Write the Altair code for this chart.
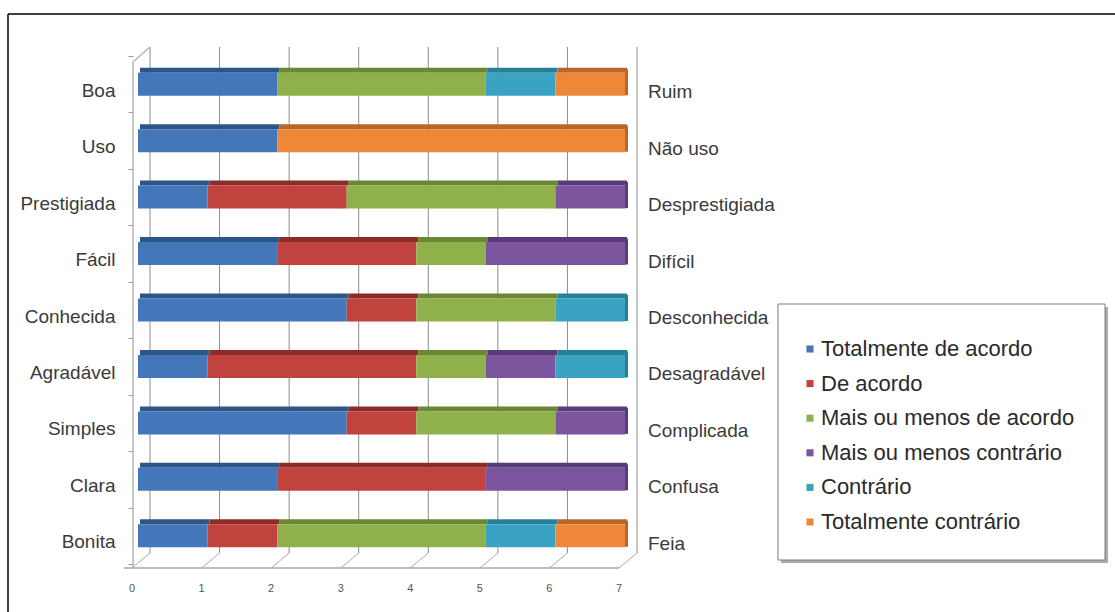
import altair as alt
import pandas as pd

categories = ["Boa", "Uso", "Prestigiada", "Fácil", "Conhecida", "Agradável", "Simples", "Clara", "Bonita"]
opposites = ["Ruim", "Não uso", "Desprestigiada", "Difícil", "Desconhecida", "Desagradável", "Complicada", "Confusa", "Feia"]
series = ["Totalmente de acordo", "De acordo", "Mais ou menos de acordo",
          "Mais ou menos contrário", "Contrário", "Totalmente contrário"]

totalmente_de_acordo = [2, 2, 1, 2, 3, 1, 3, 2, 1]
de_acordo = [0, 0, 2, 2, 1, 3, 1, 3, 1]
mais_ou_menos_de_acordo = [3, 0, 3, 1, 2, 1, 2, 0, 3]
mais_ou_menos_contrario = [0, 0, 1, 2, 0, 1, 1, 2, 0]
contrario = [1, 0, 0, 0, 1, 1, 0, 0, 1]
totalmente_contrario = [1, 5, 0, 0, 0, 0, 0, 0, 1]

x_ticks = [0, 1, 2, 3, 4, 5, 6, 7]

colors = ["#4477B9", "#C0433E", "#8FB04A", "#7B569F", "#3BA3C2", "#EE8838"]
top_colors = ["#2C5687", "#8C2C29", "#6A8734", "#583B7B", "#27809A", "#B8672A"]

FONT = "Liberation Sans"

values_by_series = [totalmente_de_acordo, de_acordo, mais_ou_menos_de_acordo,
                    mais_ou_menos_contrario, contrario, totalmente_contrario]
shade_keys = ["shade%d" % i for i in range(len(series))]

rows = []
for si, (s, vals) in enumerate(zip(series, values_by_series)):
    for ci, c in enumerate(categories):
        if vals[ci] > 0:
            rows.append({"cat": c, "series": s, "shade": shade_keys[si], "value": vals[ci], "order": si})
df = pd.DataFrame(rows)

# last segment per category (for the right-end side face)
ends = []
for ci, c in enumerate(categories):
    last = None
    total = 0
    for si, vals in enumerate(values_by_series):
        total += vals[ci]
        if vals[ci] > 0:
            last = shade_keys[si]
    ends.append({"cat": c, "shade": last, "total": total})
df_end = pd.DataFrame(ends)

df_lab = pd.DataFrame({"cat": categories, "opp": opposites})
df_ticks = pd.DataFrame({"tick": x_ticks, "label": [str(t) for t in x_ticks]})
one = pd.DataFrame({"a": [0]})

xscale = alt.Scale(domain=[0, 7], nice=False, zero=True)
shade_scale = alt.Scale(domain=shade_keys, range=top_colors)
y_enc = alt.Y("cat:N", sort=categories,
              scale=alt.Scale(domain=categories, paddingInner=0, paddingOuter=0),
              axis=alt.Axis(title=None, domain=False, ticks=True, tickSize=5, tickColor="#9a9a9a",
                            tickBand="extent", tickOffset=6, labelOffset=6, offset=5, labelFontSize=19,
                            labelFont=FONT, labelColor="#3a3a3a", labelPadding=13, grid=False))

# outer frame
frame_left = alt.Chart(one).mark_rule(color="#000000", strokeWidth=1.5).encode(
    x=alt.value(-130), y=alt.value(-42), y2=alt.value(600))
frame_top = alt.Chart(one).mark_rule(color="#000000", strokeWidth=1.5).encode(
    x=alt.value(-130), x2=alt.value(1000), y=alt.value(-42))

# back-wall grid lines
grid = alt.Chart(df_ticks).mark_rule(color="#8c8c8c", strokeWidth=1, xOffset=12).encode(
    x=alt.X("tick:Q", scale=xscale, axis=None), y=alt.value(-9), y2=alt.value(497))

# floor diagonals
floor_diag = alt.Chart(df_ticks).mark_rule(color="#a8a8a8", strokeWidth=1, xOffset=-6, x2Offset=12).encode(
    x=alt.X("tick:Q", scale=xscale, axis=None), x2="tick:Q", y=alt.value(512), y2=alt.value(497))
floor_line = alt.Chart(one).mark_rule(color="#a8a8a8", strokeWidth=1.5).encode(
    x=alt.value(-14), x2=alt.value(481), y=alt.value(512))
wall_front = alt.Chart(one).mark_rule(color="#b5b5b5", strokeWidth=1.5).encode(
    x=alt.value(-5), y=alt.value(6), y2=alt.value(512))
wall_top = alt.Chart(one).mark_rule(color="#b5b5b5", strokeWidth=1.5).encode(
    x=alt.value(-5), x2=alt.value(12), y=alt.value(6), y2=alt.value(-9))

# bars: top face + front face + end face
top_face = alt.Chart(df).mark_bar(size=5, yOffset=-14, xOffset=2).encode(
    x=alt.X("value:Q", stack="zero", scale=xscale, axis=None),
    y=y_enc,
    fill=alt.Fill("shade:N", scale=shade_scale, legend=None),
    order=alt.Order("order:Q"))

front = alt.Chart(df).mark_bar(size=23).encode(
    x=alt.X("value:Q", stack="zero", scale=xscale, axis=None),
    y=y_enc,
    color=alt.Color("series:N", scale=alt.Scale(domain=series, range=colors),
                    legend=alt.Legend(title=None, orient="none", legendX=661, legendY=282,
                                      padding=0, labelFontSize=22, labelFont=FONT,
                                      labelColor="#2a2a2a", symbolType="square", symbolSize=50,
                                      symbolStrokeWidth=0, labelOffset=0, rowPadding=12.6,
                                      labelLimit=400, zindex=2)),
    order=alt.Order("order:Q"))

end_face = alt.Chart(df_end).mark_tick(size=26, thickness=3, xOffset=1.5, yOffset=-2).encode(
    x=alt.X("total:Q", scale=xscale, axis=None),
    y=y_enc,
    fill=alt.Fill("shade:N", scale=shade_scale, legend=None),
    opacity=alt.value(1))

right_labels = alt.Chart(df_lab).mark_text(align="left", baseline="middle", fontSize=19, font=FONT,
                                           color="#3a3a3a", yOffset=8).encode(
    x=alt.value(510), y=y_enc, text="opp:N")

tick_labels = alt.Chart(df_ticks).mark_text(align="center", baseline="middle", fontSize=11, font=FONT,
                                            color="#555555", xOffset=-6).encode(
    x=alt.X("tick:Q", scale=xscale, axis=None), y=alt.value(533), text="label:N")

# legend box
legend_shadow = alt.Chart(one).mark_rect(color="#8a8a8a", opacity=0.7).encode(
    x=alt.value(643), x2=alt.value(970), y=alt.value(251), y2=alt.value(507))
legend_box = alt.Chart(one).mark_rect(fill="#ffffff", stroke="#7a7a7a", strokeWidth=1).encode(
    x=alt.value(640), x2=alt.value(967), y=alt.value(248), y2=alt.value(504))

chart = alt.layer(
    frame_left, frame_top, grid, floor_line, floor_diag, wall_front, wall_top,
    legend_shadow, legend_box,
    top_face, front, end_face, right_labels, tick_labels
).properties(
    width=487, height=508,
    autosize=alt.AutoSizeParams(type="none"),
    padding={"left": 138, "top": 56, "right": 490, "bottom": 48},
    background="#ffffff"
).configure_view(stroke=None)

chart.save("out.html", embed_options={"renderer": "svg", "actions": False})
